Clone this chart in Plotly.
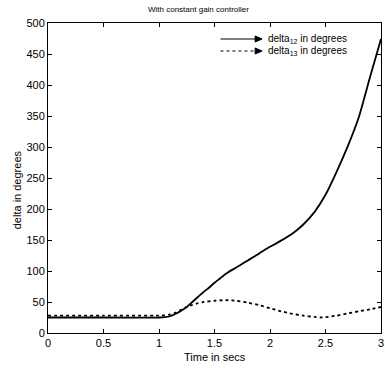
import plotly.graph_objects as go

t12 = [0, 0.5, 1.0, 1.05, 1.1, 1.15, 1.2, 1.25, 1.3, 1.35, 1.4, 1.45, 1.5, 1.55, 1.6, 1.65, 1.7, 1.8, 1.9,
       1.95, 2.0, 2.1, 2.2, 2.3, 2.4, 2.5, 2.6, 2.7, 2.8, 2.9, 3.0]
delta12 = [25, 25, 25, 25.5, 27, 31, 36, 42, 50, 58, 66, 73, 81, 88, 95, 101, 106, 117, 128,
           134, 139, 149, 160, 175, 195, 223, 260, 301, 348, 412, 474]

t13 = [0, 0.5, 1.0, 1.05, 1.1, 1.15, 1.2, 1.25, 1.3, 1.35, 1.4, 1.5, 1.6, 1.7, 1.8, 1.9,
       2.0, 2.1, 2.2, 2.3, 2.4, 2.45, 2.5, 2.6, 2.7, 2.8, 2.9, 3.0]
delta13 = [28, 28, 28, 28.5, 30, 33, 38, 42, 45.5, 48, 50, 52, 53, 52, 49, 45,
           40, 35, 31, 28, 26, 25, 25.5, 28, 31.5, 35, 38, 42]

xticks = [0, 0.5, 1, 1.5, 2, 2.5, 3]
xticklabels = ["0", "0.5", "1", "1.5", "2", "2.5", "3"]
yticks = list(range(0, 501, 50))

FONT = "Liberation Sans, Arial, sans-serif"

fig = go.Figure()
fig.add_trace(go.Scatter(x=t12, y=delta12, mode="lines",
                         line=dict(color="black", width=1.8, shape="spline", smoothing=0.5)))
fig.add_trace(go.Scatter(x=t13, y=delta13, mode="lines",
                         line=dict(color="black", width=1.8, dash="dot", shape="spline", smoothing=0.5)))

L, R, T, B = 48, 384, 23, 333
W, H = 385, 368

def px(x):
    return (x - L) / (R - L)

def py(y):
    return (B - y) / (B - T)

axis_common = dict(showgrid=False, zeroline=False, showline=True, linecolor="black",
                   linewidth=1, mirror="ticks", ticks="inside", ticklen=4,
                   tickcolor="black", ticklabeloverflow="allow",
                   tickfont=dict(family=FONT, size=11, color="black"))

fig.update_layout(
    width=W, height=H,
    margin=dict(l=L, r=W - R, t=T, b=H - B, pad=0),
    paper_bgcolor="white", plot_bgcolor="white",
    showlegend=False,
    xaxis=dict(range=[0, 3], tickvals=xticks, ticktext=xticklabels, **axis_common),
    yaxis=dict(range=[0, 500], tickvals=yticks, **axis_common),
)

# Title and axis titles
fig.add_annotation(text="With constant gain controller", xref="paper", yref="paper",
                   x=px(200), y=py(10), showarrow=False, xanchor="center", yanchor="middle",
                   font=dict(family=FONT, size=8, color="black"))
fig.add_annotation(text="Time in secs", xref="paper", yref="paper",
                   x=px(216), y=py(357), showarrow=False, xanchor="center", yanchor="middle",
                   font=dict(family=FONT, size=11, color="black"))
fig.add_annotation(text="delta in degrees", xref="paper", yref="paper",
                   x=px(17), y=py(190), showarrow=False, textangle=-90,
                   xanchor="center", yanchor="middle",
                   font=dict(family=FONT, size=11, color="black"))

# Custom legend
rows = [(39, "solid", "delta<sub>12</sub> in degrees"), (51, "dot", "delta<sub>13</sub> in degrees")]
for ypix, dash, label in rows:
    yy = py(ypix)
    fig.add_shape(type="line", xref="paper", yref="paper",
                  x0=px(222), x1=px(258), y0=yy, y1=yy,
                  line=dict(color="black", width=1, dash=dash))
    tip = px(264)
    dx = 7 / (R - L)
    dy = 3 / (B - T)
    fig.add_shape(type="path", xref="paper", yref="paper",
                  path=f"M {tip} {yy} L {tip-dx} {yy+dy} L {tip-dx} {yy-dy} Z",
                  fillcolor="black", line=dict(color="black", width=1))
    fig.add_annotation(text=label, xref="paper", yref="paper", x=px(268), y=yy,
                       showarrow=False, xanchor="left", yanchor="middle",
                       font=dict(family=FONT, size=10, color="black"))

fig.write_html("out.html")
